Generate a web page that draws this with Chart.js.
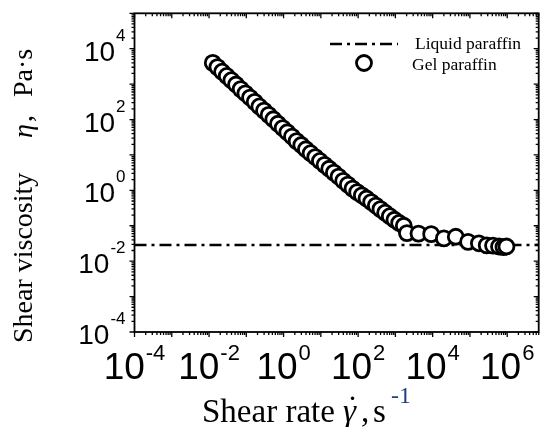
<!DOCTYPE html>
<html><head><meta charset="utf-8">
<script src="https://cdn.jsdelivr.net/npm/chart.js@4.4.0/dist/chart.umd.min.js"></script>
<style>html,body{margin:0;padding:0;background:#fff;}canvas{display:block;}</style>
</head><body>
<canvas id="c" width="549" height="427"></canvas>
<script>
// ---- data ----
const gelRateDense = [0.0126,0.0168,0.0224,0.0299,0.0398,0.0531,0.0708,0.0944,0.126,0.168,0.224,0.299,0.398,0.531,0.708,0.944,1.26,1.68,2.24,2.99,3.98,5.31,7.08,9.44,12.6,16.8,22.4,29.9,39.8,53.1,70.8,94.4,126,168,224,299,398,531,708,944,1260,1680];
const gelViscDense = [3980,3020,2240,1700,1290,977,724,550,417,316,234,178,135,102,75.9,57.5,43.7,33.1,24.5,19.1,14.5,11.2,8.71,6.76,5.25,4.07,3.16,2.45,1.86,1.45,1.12,0.891,0.724,0.589,0.468,0.372,0.295,0.234,0.186,0.148,0.120,0.100];
const gelRateTail = [2040,4170,9120,20000,41700,89100,174000,282000,417000,603000,794000,955000];
const gelViscTail = [0.062,0.060,0.058,0.044,0.049,0.035,0.032,0.028,0.0275,0.026,0.025,0.026];
const liquidRate = [1e-4, 7e6];
const liquidVisc = [0.0288, 0.0288];
const xTickExps = [-4,-2,0,2,4,6];
const yTickExps = [4,2,0,-2,-4];
const xMin = 1e-4, xMax = 7e6, yMin = 1e-4, yMax = 1e5;
const legendLabels = ['Liquid paraffin','Gel paraffin'];

const gelPoints = gelRateDense.map((x,i)=>({x, y: gelViscDense[i]}))
  .concat(gelRateTail.map((x,i)=>({x, y: gelViscTail[i]})));
const liquidPoints = liquidRate.map((x,i)=>({x, y: liquidVisc[i]}));

const SANS = '"Liberation Sans", Arial, sans-serif';
const SERIF = '"Liberation Serif", "Times New Roman", serif';
const DASH = [12,5,3,5];

function powLabelWidth(ctx, exp, f1, f2){
  ctx.font = f1; const w1 = ctx.measureText('10').width;
  ctx.font = f2; const w2 = ctx.measureText(String(exp)).width;
  return [w1, w2];
}
function drawPow(ctx, left, base, supBase, exp, f1, f2, w1){
  ctx.font = f1; ctx.fillText('10', left, base);
  ctx.font = f2; ctx.fillText(String(exp), left + w1 + 1, supBase);
}

const axesPlugin = {
  id: 'axesPlugin',
  afterDraw(chart){
    const ctx = chart.ctx, a = chart.chartArea;
    const xs = chart.scales.x, ys = chart.scales.y;
    ctx.save();
    ctx.strokeStyle = '#000';
    ctx.fillStyle = '#000';
    // frame
    ctx.lineWidth = 1.8;
    ctx.strokeRect(a.left, a.top, a.right - a.left, a.bottom - a.top);
    // ticks
    ctx.lineWidth = 1.3;
    ctx.beginPath();
    for (let e = -4; e <= 7; e++) for (let k = 1; k <= 9; k++) {
      const v = k * Math.pow(10, e);
      if (v < xMin * 0.999 || v > xMax) continue;
      const p = xs.getPixelForValue(v), L = k === 1 ? 5 : 3;
      ctx.moveTo(p, a.bottom); ctx.lineTo(p, a.bottom + L);
      ctx.moveTo(p, a.top); ctx.lineTo(p, a.top + L);
    }
    for (let e = -4; e <= 5; e++) for (let k = 1; k <= 9; k++) {
      const v = k * Math.pow(10, e);
      if (v < yMin * 0.999 || v > yMax * 1.001) continue;
      const p = ys.getPixelForValue(v), L = k === 1 ? 5 : 3;
      ctx.moveTo(a.left - L, p); ctx.lineTo(a.left, p);
      ctx.moveTo(a.right - L, p); ctx.lineTo(a.right, p);
    }
    ctx.stroke();

    // x tick labels
    ctx.textAlign = 'left'; ctx.textBaseline = 'alphabetic';
    const fx1 = '37px ' + SANS, fx2 = '22px ' + SANS;
    xTickExps.forEach(e => {
      const p = xs.getPixelForValue(Math.pow(10, e));
      const [w1, w2] = powLabelWidth(ctx, e, fx1, fx2);
      const left = p - (w1 + w2 + 1) / 2;
      drawPow(ctx, left, a.bottom + 46.5, a.bottom + 28, e, fx1, fx2, w1);
    });
    // y tick labels
    const fy1 = '28px ' + SANS, fy2 = '17px ' + SANS;
    yTickExps.forEach(e => {
      const p = ys.getPixelForValue(Math.pow(10, e));
      const [w1, w2] = powLabelWidth(ctx, e, fy1, fy2);
      const left = 125.5 - (w1 + w2 + 1);
      drawPow(ctx, left, p + 12, p - 8, e, fy1, fy2, w1);
    });

    // x title
    ctx.font = '33px ' + SERIF;
    ctx.fillText('Shear rate', 202, 421.7);
    ctx.font = 'italic 33px ' + SERIF;
    ctx.fillText('\u03B3', 343, 421.7);
    const gw = ctx.measureText('\u03B3').width;
    ctx.font = '33px ' + SERIF;
    ctx.textAlign = 'center';
    ctx.fillText('\u02D9', 343 + gw / 2 + 3, 419);
    ctx.textAlign = 'left';
    ctx.fillText(',', 361, 421.7);
    ctx.fillText('s', 373, 421.7);
    ctx.font = '24px ' + SERIF;
    ctx.fillStyle = '#23407f';
    ctx.fillText('-1', 391, 403);
    ctx.fillStyle = '#000';

    // y title (rotated)
    ctx.save();
    ctx.translate(31.5, 343);
    ctx.rotate(-Math.PI / 2);
    ctx.font = '28px ' + SERIF;
    ctx.fillText('Shear viscosity', 0, 0);
    ctx.font = 'italic 28px ' + SERIF;
    ctx.fillText('\u03B7', 205, 0);
    ctx.font = '28px ' + SERIF;
    ctx.fillText(',', 221, 0);
    ctx.fillText('Pa\u00B7s', 246, 0);
    ctx.restore();

    // legend
    ctx.lineWidth = 2.5;
    ctx.setLineDash(DASH);
    ctx.beginPath(); ctx.moveTo(330, 44); ctx.lineTo(398, 44); ctx.stroke();
    ctx.setLineDash([]);
    ctx.font = '17.5px ' + SERIF;
    ctx.fillText(legendLabels[0], 415, 48.5);
    ctx.lineWidth = 2.8;
    ctx.fillStyle = '#fff';
    ctx.beginPath(); ctx.arc(364, 63, 7.5, 0, Math.PI * 2); ctx.fill(); ctx.stroke();
    ctx.fillStyle = '#000';
    ctx.fillText(legendLabels[1], 412, 69.5);
    ctx.restore();
  }
};

new Chart(document.getElementById('c').getContext('2d'), {
  type: 'scatter',
  data: {
    datasets: [
      {
        label: legendLabels[1], data: gelPoints,
        pointRadius: 7.5, pointBorderWidth: 2.8,
        pointBorderColor: '#000', pointBackgroundColor: '#fff',
        borderColor: '#000', backgroundColor: '#fff', order: 1, clip: false
      },
      {
        label: legendLabels[0], type: 'line', data: liquidPoints,
        borderColor: '#000', borderWidth: 2.5, borderDash: DASH,
        pointRadius: 0, fill: false, order: 2
      }
    ]
  },
  options: {
    responsive: false, animation: false, events: [],
    layout: { padding: { left: 134.5, top: 13.3, right: 1, bottom: 95 } },
    scales: {
      x: { type: 'logarithmic', min: xMin, max: xMax, display: false },
      y: { type: 'logarithmic', min: yMin, max: yMax, display: false }
    },
    plugins: { legend: { display: false }, tooltip: { enabled: false } }
  },
  plugins: [axesPlugin]
});
</script>
</body></html>
